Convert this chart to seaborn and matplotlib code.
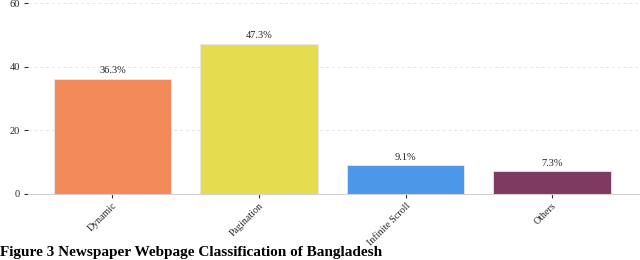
import matplotlib
matplotlib.use("Agg")
from matplotlib import pyplot as plt
import seaborn as sns
import pandas as pd

categories = ['Dynamic', 'Pagination', 'Infinite Scroll', 'Others']
shares = [36.3, 47.3, 9.1, 7.3]
bar_colors = ['#F28A5A', '#E6DC4F', '#4D97E9', '#7E3A60']
y_ticks = [0, 20, 40, 60]

df = pd.DataFrame({'Type': categories, 'Share': shares})

sns.set_style('white')
plt.rcParams['font.family'] = ['Liberation Serif', 'DejaVu Serif']

fig = plt.figure(figsize=(6.4, 2.6), dpi=100)
ax = fig.add_axes([0.044, 0.254, 0.956, 0.734])

sns.barplot(data=df, x='Type', y='Share', hue='Type', palette=bar_colors,
            saturation=1, width=0.8, legend=False, ax=ax,
            edgecolor='#e8e8e8', linewidth=0.6)

for i, v in enumerate(shares):
    ax.text(i, v + 1.0, f'{v}%', ha='center', va='bottom', fontsize=7.5, color='#222222')

ax.set_ylim(0, 60)
ax.set_xlim(-0.575, 3.6)
ax.set_yticks(y_ticks)
ax.set_xlabel('')
ax.set_ylabel('')
ax.yaxis.grid(True, linestyle=(0, (3, 3)), color='#e6e6e6', linewidth=0.7)
ax.set_axisbelow(True)
for s in ['top', 'right', 'left']:
    ax.spines[s].set_visible(False)
ax.spines['bottom'].set_color('#d0d0d0')
ax.spines['bottom'].set_linewidth(0.8)

ax.tick_params(axis='y', length=3, width=0.8, color='#333333', labelsize=7.5, pad=3, left=True)
ax.tick_params(axis='x', length=3, width=0.8, color='#333333', labelsize=7.2, pad=2, bottom=True)
plt.setp(ax.get_xticklabels(), rotation=45, ha='right', rotation_mode='anchor')

fig.text(0.0, 0.016, 'Figure 3 Newspaper Webpage Classification of Bangladesh',
         ha='left', va='baseline', fontsize=11, fontweight='bold', color='black')

fig.savefig('out.png', dpi=100)
